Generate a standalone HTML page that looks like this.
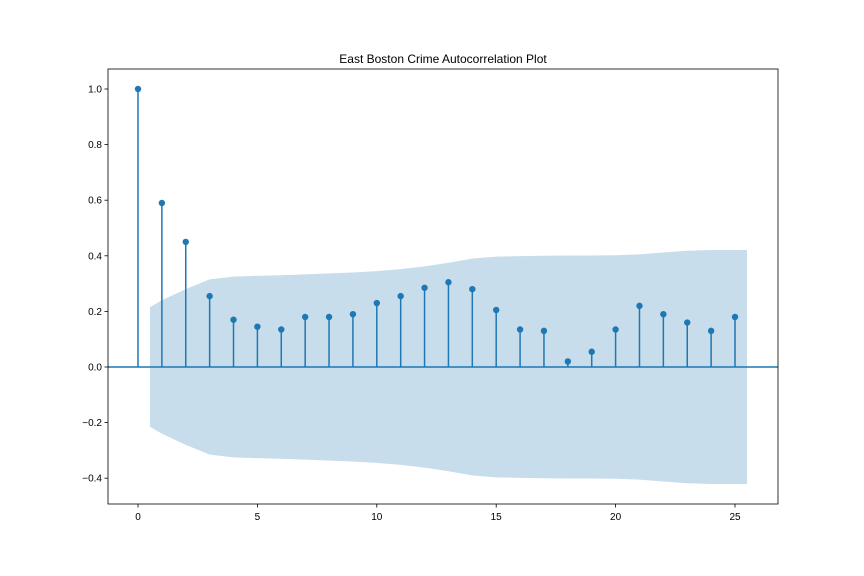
<!DOCTYPE html>
<html><head><meta charset="utf-8"><style>body{margin:0;background:#fff}svg{display:block;font-family:"Liberation Sans",sans-serif}</style></head>
<body>
<svg id="chart" width="864" height="576" xmlns="http://www.w3.org/2000/svg">
<rect width="864" height="576" fill="#fff"/>
<text x="443" y="63" font-size="12" text-anchor="middle" fill="#000">East Boston Crime Autocorrelation Plot</text>
<g id="plot"></g>
</svg>
<script>
const lags=[0,1,2,3,4,5,6,7,8,9,10,11,12,13,14,15,16,17,18,19,20,21,22,23,24,25];
const acfValues=[1.0,0.59,0.45,0.255,0.17,0.145,0.135,0.18,0.18,0.19,0.23,0.255,0.285,0.305,0.28,0.205,0.135,0.13,0.02,0.055,0.135,0.22,0.19,0.16,0.13,0.18];
const bandX=[0.5,1,2,3,4,5,6,7,8,9,10,11,12,13,14,15,16,17,18,19,20,21,22,23,24,25,25.5];
const bandUpper=[0.215,0.24,0.28,0.315,0.325,0.328,0.33,0.333,0.337,0.34,0.345,0.352,0.362,0.375,0.39,0.397,0.399,0.40,0.401,0.401,0.402,0.405,0.412,0.418,0.421,0.421,0.421];
const xTicks=[0,5,10,15,20,25];
const yTicks=[-0.4,-0.2,0.0,0.2,0.4,0.6,0.8,1.0];
const L=108,R=778,T=69,B=504;
const X=v=>138+v*23.88;
const Y=v=>367-v*278;
const ns="http://www.w3.org/2000/svg";
const g=document.getElementById('plot');
function mk(tag,attrs){const e=document.createElementNS(ns,tag);for(const k in attrs)e.setAttribute(k,attrs[k]);g.appendChild(e);return e;}
let d='M'+X(bandX[0])+','+Y(bandUpper[0]);
for(let i=1;i<bandX.length;i++)d+='L'+X(bandX[i])+','+Y(bandUpper[i]);
for(let i=bandX.length-1;i>=0;i--)d+='L'+X(bandX[i])+','+Y(-bandUpper[i]);
d+='Z';
const band=mk('path',{d:d,fill:'#1f77b4','fill-opacity':'0.25'});


const zl=mk('line',{x1:L,x2:R,y1:Y(0),y2:Y(0),stroke:'#1f77b4','stroke-width':1.5});


lags.forEach((l,i)=>{
 const s=mk('line',{x1:X(l),x2:X(l),y1:Y(0),y2:Y(acfValues[i]),stroke:'#1f77b4','stroke-width':1.5});
 
 
 const c=mk('circle',{cx:X(l),cy:Y(acfValues[i]),r:3.2,fill:'#1f77b4'});
 
 
});
const fr=mk('rect',{x:L,y:T,width:R-L,height:B-T,fill:'none',stroke:'#000','stroke-width':0.8});


xTicks.forEach(t=>{
 mk('line',{x1:X(t),x2:X(t),y1:B,y2:B+3.5,stroke:'#000','stroke-width':0.8});
 const tx=mk('text',{x:X(t),y:B+16,'font-size':10,'text-anchor':'middle',fill:'#000'});
 tx.textContent=t;
 
 
});
yTicks.forEach(t=>{
 mk('line',{x1:L-3.5,x2:L,y1:Y(t),y2:Y(t),stroke:'#000','stroke-width':0.8});
 const tx=mk('text',{x:L-6,y:Y(t)+3.5,'font-size':10,'text-anchor':'end',fill:'#000'});
 tx.textContent=(t<0?'\u2212':'')+Math.abs(t).toFixed(1);
 
 
});
</script>
</body></html>
